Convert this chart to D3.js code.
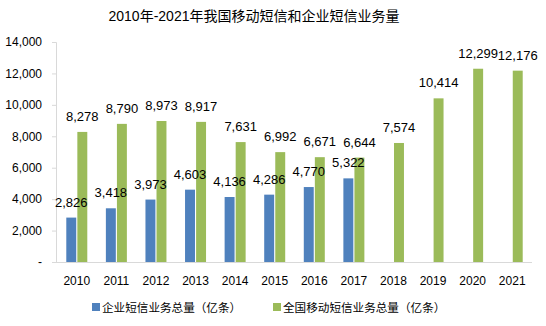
<!DOCTYPE html>
<html>
<head>
<meta charset="utf-8">
<script src="https://cdn.jsdelivr.net/npm/d3@7/dist/d3.min.js"></script>
<style>
  html, body { margin: 0; padding: 0; background: #fff; }
  svg { display: block; font-family: "Liberation Sans", Arial, "Noto Sans CJK SC", sans-serif; }
</style>
</head>
<body>
<div id="chart"></div>
<script>
var years = ['2010', '2011', '2012', '2013', '2014', '2015', '2016', '2017', '2018', '2019', '2020', '2021'];
var enterpriseSms = [2826, 3418, 3973, 4603, 4136, 4286, 4770, 5322, null, null, null, null];
var mobileSms = [8278, 8790, 8973, 8917, 7631, 6992, 6671, 6644, 7574, 10414, 12299, 12176];
var yTicks = [0, 2000, 4000, 6000, 8000, 10000, 12000, 14000];
var seriesNames = ['企业短信业务总量（亿条）', '全国移动短信业务总量（亿条）'];
var chartTitle = '2010年-2021年我国移动短信和企业短信业务量';

var width = 546, height = 326;
var colors = ['#4f81bd', '#9bbb59'];
var series = [enterpriseSms, mobileSms];

var svg = d3.select('#chart').append('svg')
	.attr('width', width)
	.attr('height', height);

var x = d3.scaleBand().domain(years).range([57, 532]);
var y = d3.scaleLinear().domain([0, 14000]).range([262, 42]);
// two bars side by side inside each year band
var xs = d3.scaleBand().domain([0, 1])
	.range([x.bandwidth() / 2 - 10.5, x.bandwidth() / 2 + 10.5])
	.paddingInner(0.1);

var fmt = d3.format(',');

// title
svg.append('text')
	.attr('x', 254)
	.attr('y', 21)
	.attr('text-anchor', 'middle')
	.attr('font-size', '14px')
	.attr('font-family', '"Liberation Sans", "Noto Sans CJK SC", sans-serif')
	.attr('fill', '#000')
	.text(chartTitle);

// y axis
var yAxis = d3.axisLeft(y)
	.tickValues(yTicks)
	.tickSize(4)
	.tickPadding(10)
	.tickFormat(function (d) { return d === 0 ? '-' : fmt(d); });
var gy = svg.append('g')
	.attr('transform', 'translate(56,0)')
	.call(yAxis);
gy.select('.domain').attr('stroke', '#d9d9d9');
gy.selectAll('.tick line').attr('stroke', '#d9d9d9');
gy.selectAll('.tick text')
	.attr('font-size', '12px')
	.attr('fill', '#000')
	.attr('font-family', '"Liberation Sans", Arial, sans-serif');

// x axis
var xAxis = d3.axisBottom(x).tickSize(0).tickPadding(14);
var gx = svg.append('g')
	.attr('transform', 'translate(0,262)')
	.call(xAxis);
gx.select('.domain').attr('stroke', '#d9d9d9').attr('d', 'M52,0.5H532');
gx.selectAll('.tick text')
	.attr('font-size', '12px')
	.attr('fill', '#000')
	.attr('font-family', '"Liberation Sans", Arial, sans-serif');

// bars
series.forEach(function (values, s) {
	var pts = years.map(function (yr, i) { return { year: yr, v: values[i] }; })
		.filter(function (d) { return d.v !== null; });

	svg.selectAll('.bar' + s)
		.data(pts)
		.enter()
		.append('rect')
		.attr('class', 'bar' + s)
		.attr('x', function (d) { return x(d.year) + xs(s); })
		.attr('y', function (d) { return y(d.v); })
		.attr('width', xs.bandwidth())
		.attr('height', function (d) { return y(0) - y(d.v); })
		.attr('fill', colors[s]);
});

// value labels
series.forEach(function (values, s) {
	var pts = years.map(function (yr, i) { return { year: yr, v: values[i] }; })
		.filter(function (d) { return d.v !== null; });

	svg.selectAll('.label' + s)
		.data(pts)
		.enter()
		.append('text')
		.attr('class', 'label' + s)
		.attr('x', function (d) { return x(d.year) + xs(s) + xs.bandwidth() / 2; })
		.attr('y', function (d) { return y(d.v) - 11; })
		.attr('text-anchor', 'middle')
		.attr('font-size', '13px')
		.attr('font-family', '"Liberation Sans", Arial, sans-serif')
		.attr('fill', '#000')
		.text(function (d) { return fmt(d.v); });
});

// legend
var legendX = [92, 273];
var legend = svg.selectAll('.legend')
	.data(seriesNames)
	.enter()
	.append('g')
	.attr('class', 'legend')
	.attr('transform', function (d, i) { return 'translate(' + legendX[i] + ',303)'; });
legend.append('rect')
	.attr('width', 8)
	.attr('height', 8)
	.attr('fill', function (d, i) { return colors[i]; });
legend.append('text')
	.attr('x', 10)
	.attr('y', 8.5)
	.attr('font-size', '11.6px')
	.attr('font-family', '"Noto Sans CJK SC", sans-serif')
	.attr('fill', '#000')
	.text(function (d) { return d; });
</script>
</body>
</html>
